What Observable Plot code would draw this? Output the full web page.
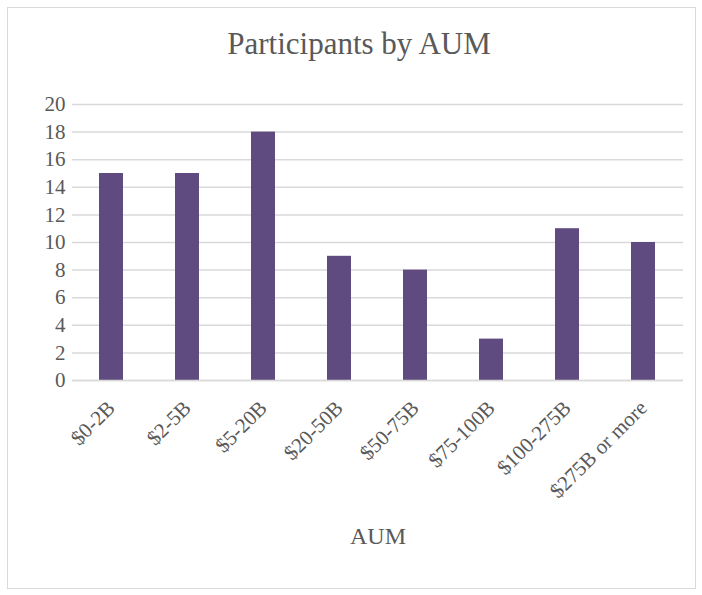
<!DOCTYPE html>
<html><head><meta charset="utf-8">
<script src="https://cdn.jsdelivr.net/npm/d3@7"></script>
<script src="https://cdn.jsdelivr.net/npm/@observablehq/plot@0.6"></script>
<style>
body{margin:0;background:#fff;}
#wrap{position:relative;width:702px;height:595px;overflow:hidden;font-family:"Liberation Serif","DejaVu Serif",serif;}
#frame{position:absolute;left:7px;top:7px;width:689px;height:582px;border:1px solid #d9d9d9;box-sizing:border-box;}
#title{position:absolute;left:0;width:718px;top:26px;text-align:center;font-size:31px;color:#595959;}
#chart{position:absolute;left:0;top:0;}
</style></head>
<body><div id="wrap"><div id="frame"></div><div id="title">Participants by AUM</div><div id="chart"></div></div>
<script>
const categories = ["$0-2B","$2-5B","$5-20B","$20-50B","$50-75B","$75-100B","$100-275B","$275B or more"];
const participants = [15,15,18,9,8,3,11,10];
const yTicks = [0,2,4,6,8,10,12,14,16,18,20];
const xTitle = "AUM";
const data = categories.map((c,i)=>({c, v: participants[i]}));
const chart = Plot.plot({
  width: 702, height: 595,
  marginTop: 104, marginBottom: 215, marginLeft: 72, marginRight: 19,
  style: {fontFamily: '"Liberation Serif","DejaVu Serif",serif', color: "#595959", background: "transparent"},
  x: {domain: categories, paddingInner: 0.68, paddingOuter: 0.34, label: null},
  y: {domain: [0,20], label: null},
  marks: [
    Plot.gridY(yTicks, {stroke: "#d9d9d9", strokeOpacity: 1, strokeWidth: 1.5}),
    Plot.barY(data, {x: "c", y: "v", fill: "#5f4b80"}),
    Plot.ruleY([0], {stroke: "#d9d9d9", strokeWidth: 1.5}),
    Plot.axisY({ticks: yTicks, tickSize: 0, tickPadding: 7, fontSize: 21, label: null}),
    Plot.axisX({tickSize: 0, tickRotate: -45, tickPadding: 24, fontSize: 21, label: null}),
    Plot.text([xTitle], {frameAnchor: "bottom", dy: 163, fontSize: 24, fill: "#595959"})
  ]
});
document.getElementById("chart").appendChild(chart);
</script></body></html>
